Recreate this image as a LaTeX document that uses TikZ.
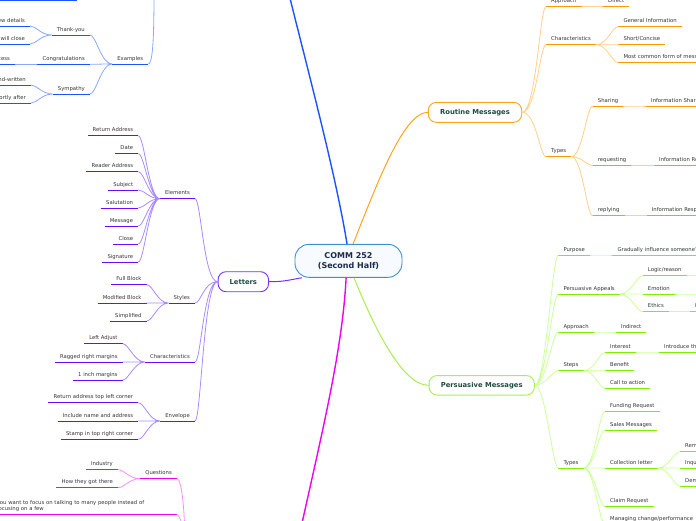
\documentclass[tikz,border=0pt]{standalone}
\usepackage{fontspec}
\setmainfont{DejaVu Sans}
\definecolor{txt}{HTML}{333333}
\definecolor{ttl}{HTML}{1E4D3B}
\definecolor{rootC}{HTML}{3D8FD1}
\definecolor{rootF}{HTML}{F7FBFF}
\definecolor{rootT}{HTML}{1B2A4E}
\definecolor{bluU}{HTML}{1A53FF}
\definecolor{bluC}{HTML}{8AA8FF}
\definecolor{purU}{HTML}{6A0DFF}
\definecolor{purC}{HTML}{A98AFF}
\definecolor{purB}{HTML}{7B2FFF}
\definecolor{magU}{HTML}{EE00EE}
\definecolor{magC}{HTML}{FF8CFF}
\definecolor{oraU}{HTML}{FF9900}
\definecolor{oraC}{HTML}{FFD08A}
\definecolor{oraB}{HTML}{FFA31A}
\definecolor{grnU}{HTML}{80EE00}
\definecolor{grnC}{HTML}{CCFF99}
\definecolor{grnB}{HTML}{A6F04A}

\begin{document}
\begin{tikzpicture}[x=1pt, y=-1pt,
  topic/.style={font=\fontsize{5.3}{6.3}\selectfont, text=txt, inner xsep=5pt, inner ysep=2.5pt},
  tline/.style={text height=3.9pt, text depth=1.2pt},
  ul/.style={append after command={(\tikzlastnode.south west)
             edge[draw=#1, line width=1pt] (\tikzlastnode.south east)}},
  tB/.style={topic, tline, ul=bluU, anchor=south east},
  tP/.style={topic, tline, ul=purU, anchor=south east},
  tM/.style={topic, tline, ul=magU, anchor=south east},
  tO/.style={topic, tline, ul=oraU, anchor=south west},
  tG/.style={topic, tline, ul=grnU, anchor=south west},
  branch/.style={draw=#1, fill=white, rounded corners=8pt, line width=0.9pt,
                 minimum height=20pt, inner sep=0pt, text=ttl,
                 font=\fontsize{6.8}{8}\selectfont\bfseries},
  rootbox/.style={draw=rootC, fill=rootF, rounded corners=14pt, line width=0.9pt,
                  minimum width=107pt, minimum height=33pt, inner sep=0pt, align=center,
                  text=rootT, font=\fontsize{8}{10.3}\selectfont\bfseries},
  cR/.style={out=0, in=180, out distance=11pt, in distance=6pt},
  cL/.style={out=180, in=0, out distance=11pt, in distance=6pt},
  lnk/.style={draw=#1, line width=0.8pt}]
\clip (0,0) rectangle (696,520);
\node[rootbox] (root) at (348.5,260.8) {COMM 252\\(Second Half)};
\node[branch=oraB, minimum width=93.4pt] (rm) at (475,112.3) {Routine Messages};
\node[branch=grnB, minimum width=105.3pt, minimum height=19.5pt] (pm) at (481.7,385.3) {Persuasive Messages};
\node[branch=purB, minimum width=50.5pt] (lt) at (243.3,281.7) {Letters};
\coordinate (blueup) at (283,-30);
\coordinate (exup) at (154,-25);
\coordinate (magdown) at (293,565);
\coordinate (magpar) at (185,545);
\coordinate (logx) at (702,275.7);
\coordinate (emox) at (702,294);
% examples
\node[tB, minimum width=92pt] (topnote) at (77,0.8) {};
\node[tB] (exa) at (148.3,64) {Examples};
\node[tB] (thx) at (90,35) {Thank-you};
\node[tB] (cgr) at (90,64.3) {Congratulations};
\node[tB] (sym) at (90,94) {Sympathy};
\node[tB] (rev) at (30,26) {Review details};
\node[tB] (clo) at (30,44) {Indicate when you will close};
\node[tB] (suc) at (15,64.3) {Recognize success};
\node[tB] (hnd) at (31,85) {Hand-written};
\node[tB] (snd) at (31,103) {Send shortly after};
% letters
\node[tP] (ele) at (195,198.7) {Elements};
\node[tP] (ret) at (138.3,135.7) {Return Address};
\node[tP] (dat) at (138.3,153.7) {Date};
\node[tP] (rea) at (138.3,171.7) {Reader Address};
\node[tP] (sub) at (138.3,190) {Subject};
\node[tP] (sal) at (138.3,208) {Salutation};
\node[tP] (mes) at (138.3,226) {Message};
\node[tP] (cls) at (138.3,244) {Close};
\node[tP] (sig) at (138.3,262) {Signature};
\node[tP] (sty) at (195,303) {Styles};
\node[tP] (ful) at (146.7,284.7) {Full Block};
\node[tP] (mod) at (146.7,303) {Modified Block};
\node[tP] (sim) at (146.7,321) {Simplified};
\node[tP] (chr) at (195,362) {Characteristics};
\node[tP] (lad) at (122.7,343.7) {Left Adjust};
\node[tP] (rag) at (122.7,362) {Ragged right margins};
\node[tP] (inc) at (122.7,380) {1 inch margins};
\node[tP] (env) at (195,421) {Envelope};
\node[tP] (rta) at (138.3,402.7) {Return address top left corner};
\node[tP] (inm) at (138.3,421) {Include name and address};
\node[tP] (stm) at (138.3,439.3) {Stamp in top right corner};
% questions
\node[tM] (qst) at (177,478.7) {Questions};
\node[tM] (ind) at (118,469.7) {Industry};
\node[tM] (how) at (118,487.7) {How they got there};
\node[topic, ul=magU, anchor=south east, text width=174.7pt, align=left] (foc) at (176.7,514.3)
  {you want to focus on talking to many people instead of\\focusing on a few};
% routine
\node[tO] (app) at (546,6.3) {Approach};
\node[tO] (dir) at (603,6.3) {Direct};
\node[tO] (cha) at (546,44.7) {Characteristics};
\node[tO] (gen) at (618.3,26.7) {General Information};
\node[tO] (sho) at (618.3,44.7) {Short/Concise};
\node[tO] (mos) at (618.3,62.7) {Most common form of message};
\node[tO] (typ) at (546,156.7) {Types};
\node[tO] (shr) at (592.7,106) {Sharing};
\node[tO] (req) at (592.7,165.7) {requesting};
\node[tO] (rep) at (592.7,215.7) {replying};
\node[tO] (ish) at (646,106) {Information Sharing};
\node[tO] (irq) at (654,165.7) {Information Request};
\node[tO] (irs) at (646.7,215.7) {Information Response};
% persuasive
\node[tG] (pur) at (558.3,255) {Purpose};
\node[tG] (gra) at (612.3,255) {Gradually influence someone's opinion};
\node[tG] (pap) at (558.3,294) {Persuasive Appeals};
\node[tG] (log) at (642.7,275.7) {Logic/reason};
\node[tG] (emo) at (642.7,294) {Emotion};
\node[tG] (eth) at (642.7,311.7) {Ethics};
\node[tG] (etc) at (690,311.7) {Build trust};
\node[tG] (apr) at (558.3,332) {Approach};
\node[tG] (idr) at (616,332) {Indirect};
\node[tG] (stp) at (558.3,370.7) {Steps};
\node[tG] (int) at (605,352.7) {Interest};
\node[tG] (ben) at (605,370.7) {Benefit};
\node[tG] (cta) at (605,388.3) {Call to action};
\node[tG] (itp) at (659,352.7) {Introduce the product};
\node[tG] (gty) at (558.3,468) {Types};
\node[tG] (fun) at (605,411.7) {Funding Request};
\node[tG] (slm) at (605,430) {Sales Messages};
\node[tG] (col) at (605,468) {Collection letter};
\node[tG] (clm) at (605,506.7) {Claim Request};
\node[tG] (mng) at (605,524) {Managing change/performance};
\node[tG] (rem) at (680,451.7) {Reminder};
\node[tG] (inq) at (680,468) {Inquiry};
\node[tG] (dem) at (680,486) {Demand};
% main branches
\draw[bluU, line width=1.4pt] (root.95) .. controls (335,170) and (305,60) .. (blueup);
\draw[magU, line width=1.4pt] (root.262) .. controls (342,360) and (315,460) .. (magdown);
\draw[oraB, line width=1pt] (root.75) to[out=68, in=180, out distance=60pt, in distance=25pt] (rm.west);
\draw[grnB, line width=1pt] (root.-72) to[out=-68, in=180, out distance=60pt, in distance=25pt] (pm.west);
\draw[purB, line width=1pt] (root.200) to[out=190, in=0, distance=15pt] (lt.east);
% connectors
\draw[lnk=bluC] (exa.south east) to[out=0, in=-90, out distance=6pt, in distance=40pt] (exup);
\draw[lnk=bluC, cL] (exa.south west) to (thx.south east) (exa.south west) to (cgr.south east)
  (exa.south west) to (sym.south east);
\draw[lnk=bluC, cL] (thx.south west) to (rev.south east) (thx.south west) to (clo.south east);
\draw[lnk=bluC, cL] (cgr.south west) to (suc.south east);
\draw[lnk=bluC, cL] (sym.south west) to (hnd.south east) (sym.south west) to (snd.south east);
\draw[lnk=purC, cL, out distance=14pt] (lt.west) to (ele.south east) (lt.west) to (sty.south east)
  (lt.west) to (chr.south east) (lt.west) to (env.south east);
\draw[lnk=purC, cL] (ele.south west) to (ret.south east) (ele.south west) to (dat.south east)
  (ele.south west) to (rea.south east) (ele.south west) to (sub.south east)
  (ele.south west) to (sal.south east) (ele.south west) to (mes.south east)
  (ele.south west) to (cls.south east) (ele.south west) to (sig.south east);
\draw[lnk=purC, cL] (sty.south west) to (ful.south east) (sty.south west) to (mod.south east)
  (sty.south west) to (sim.south east);
\draw[lnk=purC, cL] (chr.south west) to (lad.south east) (chr.south west) to (rag.south east)
  (chr.south west) to (inc.south east);
\draw[lnk=purC, cL] (env.south west) to (rta.south east) (env.south west) to (inm.south east)
  (env.south west) to (stm.south east);
\draw[lnk=magC] (qst.south east) to[out=0, in=90, out distance=5pt, in distance=30pt] (magpar)
  (foc.south east) to[out=0, in=90, out distance=3pt, in distance=15pt] (magpar);
\draw[lnk=magC, cL] (qst.south west) to (ind.south east) (qst.south west) to (how.south east);
\draw[lnk=oraC, cR, out distance=14pt] (rm.east) to (app.south west) (rm.east) to (cha.south west)
  (rm.east) to (typ.south west);
\draw[lnk=oraC, cR] (app.south east) to (dir.south west);
\draw[lnk=oraC, cR] (cha.south east) to (gen.south west) (cha.south east) to (sho.south west)
  (cha.south east) to (mos.south west);
\draw[lnk=oraC, cR] (typ.south east) to (shr.south west) (typ.south east) to (req.south west)
  (typ.south east) to (rep.south west);
\draw[lnk=oraC, cR] (shr.south east) to (ish.south west) (req.south east) to (irq.south west)
  (rep.south east) to (irs.south west);
\draw[lnk=grnC, cR] (pm.east) to (pur.south west) (pm.east) to (pap.south west)
  (pm.east) to (apr.south west) (pm.east) to (stp.south west) (pm.east) to (gty.south west);
\draw[lnk=grnC, cR] (pur.south east) to (gra.south west) (apr.south east) to (idr.south west);
\draw[lnk=grnC, cR] (pap.south east) to (log.south west) (pap.south east) to (emo.south west)
  (pap.south east) to (eth.south west);
\draw[lnk=grnC, cR] (log.south east) to (logx) (emo.south east) to (emox)
  (eth.south east) to (etc.south west);
\draw[lnk=grnC, cR] (stp.south east) to (int.south west) (stp.south east) to (ben.south west)
  (stp.south east) to (cta.south west) (int.south east) to (itp.south west);
\draw[lnk=grnC, cR] (gty.south east) to (fun.south west) (gty.south east) to (slm.south west)
  (gty.south east) to (col.south west) (gty.south east) to (clm.south west)
  (gty.south east) to (mng.south west);
\draw[lnk=grnC, cR] (col.south east) to (rem.south west) (col.south east) to (inq.south west)
  (col.south east) to (dem.south west);
\end{tikzpicture}
\end{document}
